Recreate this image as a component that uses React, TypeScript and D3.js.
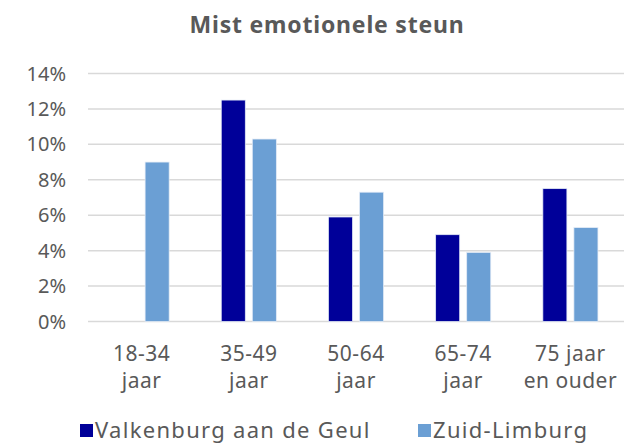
import React from 'react';
import * as d3 from 'd3';

const categories = ['18-34 jaar', '35-49 jaar', '50-64 jaar', '65-74 jaar', '75 jaar en ouder'];
const labelLines = [
    ['18-34', 'jaar'],
    ['35-49', 'jaar'],
    ['50-64', 'jaar'],
    ['65-74', 'jaar'],
    ['75 jaar', 'en ouder'],
];
const series = ['Valkenburg aan de Geul', 'Zuid-Limburg'];
const valkenburg = [null, 0.125, 0.059, 0.049, 0.075];
const zuidLimburg = [0.09, 0.103, 0.073, 0.039, 0.053];
const yTicks = [0, 0.02, 0.04, 0.06, 0.08, 0.1, 0.12, 0.14];

const colors = ['#000099', '#6b9fd4'];
const textColor = '#595959';
const font = '"Noto Sans", sans-serif';

export default function App() {
    const width = 624;
    const height = 444;
    const margin = { top: 73.5, right: 0, bottom: 122.5, left: 88 };

    const x = d3.scaleBand(categories, [margin.left, width - margin.right]);
    const x1 = d3.scaleBand(series, [0, x.bandwidth()])
        .paddingInner(0.226)
        .paddingOuter(0.839);
    const y = d3.scaleLinear([0, 0.14], [height - margin.bottom, margin.top]);
    const fmt = d3.format('.0%');

    const values = [valkenburg, zuidLimburg];

    return (
        <svg width={width} height={height} style={{ position: 'absolute', left: 0, top: 0 }}>
            <text x={327} y={33} textAnchor="middle" fontFamily={font} fontWeight="bold"
                fontSize={23} letterSpacing={0.8} fill={textColor}>
                Mist emotionele steun
            </text>
            <g>
                {yTicks.map(t => (
                    <g key={t}>
                        <line x1={margin.left} x2={width - margin.right} y1={y(t)} y2={y(t)}
                            stroke="#d9d9d9" strokeWidth={1.5} />
                        <text x={66} y={y(t)} dy="0.35em" textAnchor="end" fontFamily={font}
                            fontSize={20} fill={textColor}>
                            {fmt(t)}
                        </text>
                    </g>
                ))}
            </g>
            {series.map((s, si) => (
                <g key={s} fill={colors[si]}>
                    {categories.map((c, i) => {
                        const v = values[si][i];
                        if (v == null) return null;
                        return (
                            <rect key={c} x={x(c) + x1(s)} y={y(v)} width={x1.bandwidth()}
                                height={y(0) - y(v)} stroke="#e3ebf6" strokeWidth={0.75} />
                        );
                    })}
                </g>
            ))}
            {categories.map((c, i) => (
                <text key={c} textAnchor="middle" fontFamily={font} fontSize={21}
                    letterSpacing={0.5} fill={textColor}>
                    {labelLines[i].map((l, j) => (
                        <tspan key={j} x={x(c) + x.bandwidth() / 2} y={361 + j * 27}>{l}</tspan>
                    ))}
                </text>
            ))}
            <g fontFamily={font} fontSize={22} letterSpacing={1.3} fill={textColor}>
                <rect x={80} y={424} width={13} height={13} fill={colors[0]} />
                <text x={95} y={438}>{series[0]}</text>
                <rect x={418} y={424} width={13} height={13} fill={colors[1]} />
                <text x={433} y={438}>{series[1]}</text>
            </g>
        </svg>
    );
}
